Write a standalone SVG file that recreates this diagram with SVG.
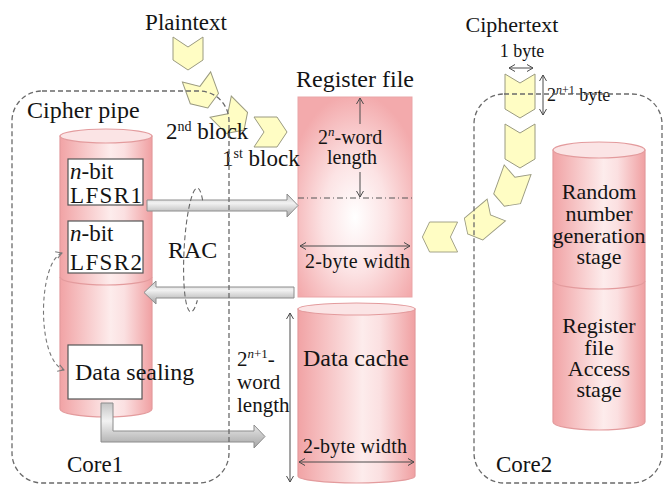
<svg xmlns="http://www.w3.org/2000/svg" width="664" height="487" viewBox="0 0 664 487">
<style>
text{font-family:'Liberation Serif','Times New Roman','DejaVu Serif',serif;fill:#141414}
.cyl{fill:url(#pinkH);stroke:#E39B9D;stroke-width:1.2}
.cap{fill:#FBE4E5;stroke:#E39B9D;stroke-width:1.2}
.div{fill:none;stroke:#E39B9D;stroke-width:1.2}
.box{fill:#fff;stroke:#555;stroke-width:1.2}
.chev{fill:#FFFDC4;stroke:#9a9a80;stroke-width:1}
.core{fill:none;stroke:#6a6a6a;stroke-width:1.3;stroke-dasharray:5 3}
.dim{fill:none;stroke:#4a4a4a;stroke-width:1;marker-start:url(#ah);marker-end:url(#ah)}
.one{fill:none;stroke:#4a4a4a;stroke-width:1;marker-end:url(#ah)}
.garrow{fill:url(#grayV);stroke:#8c8c8c;stroke-width:1}
</style>
<defs>
<linearGradient id="pinkH" x1="0" y1="0" x2="1" y2="0">
<stop offset="0" stop-color="#F1A3A5"/>
<stop offset="0.55" stop-color="#FDECEC"/>
<stop offset="0.7" stop-color="#FBE0E1"/>
<stop offset="1" stop-color="#F0A0A2"/>
</linearGradient>
<radialGradient id="pinkR" cx="0.5" cy="0.6" r="0.62">
<stop offset="0" stop-color="#FFFFFF"/>
<stop offset="0.45" stop-color="#FCE3E4"/>
<stop offset="1" stop-color="#F3AAAC"/>
</radialGradient>
<linearGradient id="grayV" x1="0" y1="0" x2="0" y2="1">
<stop offset="0" stop-color="#C4C4C4"/>
<stop offset="0.4" stop-color="#F2F2F2"/>
<stop offset="1" stop-color="#A4A4A4"/>
</linearGradient>
<marker id="ah" markerWidth="8" markerHeight="8" refX="6" refY="4" orient="auto-start-reverse" markerUnits="userSpaceOnUse">
<path d="M0,0.5 L6,4 L0,7.5" fill="none" stroke="#4a4a4a" stroke-width="1"/>
</marker>
<marker id="ahd" markerWidth="8" markerHeight="8" refX="6" refY="4" orient="auto-start-reverse" markerUnits="userSpaceOnUse">
<path d="M0,0.5 L6,4 L0,7.5" fill="none" stroke="#777" stroke-width="1"/>
</marker>
<path id="chP" d="M-15,-16 L0,-6 L15,-16 L15,7 L0,17 L-15,7 Z"/>
<path id="chC" d="M-15,-22 L0,-13 L15,-22 L15,13 L0,22 L-15,13 Z"/>
</defs>

<g id="cipher-pipe">
<path class="cyl" d="M60,136 L60,409 A46,8 0 0 0 152,409 L152,136 Z"/>
<ellipse class="cap" cx="106" cy="136" rx="46" ry="7"/>
<path class="div" d="M60,277 A46,8 0 0 0 152,277"/>
<text x="27" y="118" font-size="24">Cipher pipe</text>
</g>
<g id="lfsr1">
<rect class="box" x="68" y="159" width="75" height="46"/>
<text x="70" y="179" font-size="23"><tspan font-style="italic">n</tspan>-bit</text>
<text x="70" y="203" font-size="23" textLength="72">LFSR1</text>
</g>
<g id="lfsr2">
<rect class="box" x="68" y="221" width="75" height="52"/>
<text x="70" y="241" font-size="23"><tspan font-style="italic">n</tspan>-bit</text>
<text x="70" y="270" font-size="23" textLength="72">LFSR2</text>
</g>
<g id="data-sealing">
<rect class="box" x="68" y="345" width="74" height="54"/>
<text x="75" y="380" font-size="24">Data sealing</text>
</g>

<g id="register-file">
<text x="355" y="87" font-size="24" text-anchor="middle">Register file</text>
<rect x="298" y="97" width="114" height="200" fill="url(#pinkR)" stroke="#EAA5A7" stroke-width="1"/>
<line x1="298" y1="198" x2="412" y2="198" stroke="#555" stroke-width="1" stroke-dasharray="6 3 1 3"/>
<line class="one" x1="360" y1="124" x2="360" y2="98"/>
<line class="one" x1="360" y1="172" x2="360" y2="197"/>
<text x="318" y="144" font-size="20">2<tspan font-size="13" dy="-8" font-style="italic">n</tspan><tspan dy="8">-word</tspan></text>
<text x="352" y="164" font-size="20" text-anchor="middle">length</text>
<line class="dim" x1="300" y1="246" x2="410" y2="246"/>
<text x="305" y="268" font-size="20" textLength="105">2-byte width</text>
</g>

<g id="data-cache">
<path class="cyl" d="M298,309 L298,476 A58.5,7 0 0 0 415,476 L415,309 Z"/>
<ellipse class="cap" cx="356.5" cy="309" rx="58.5" ry="6"/>
<text x="356" y="366" font-size="24" text-anchor="middle">Data cache</text>
<text x="303" y="453" font-size="20" textLength="104">2-byte width</text>
<line class="dim" x1="299" y1="462" x2="414" y2="462"/>
<line class="dim" x1="290" y1="313" x2="290" y2="482"/>
<text x="237" y="366" font-size="21">2<tspan font-size="13" dy="-8"><tspan font-style="italic">n</tspan>+1</tspan><tspan dy="8">-</tspan></text>
<text x="237" y="389" font-size="21">word</text>
<text x="237" y="412" font-size="21">length</text>
</g>

<g id="core2-pipe">
<path class="cyl" d="M553,150 L553,422 A46,8 0 0 0 645,422 L645,150 Z"/>
<ellipse class="cap" cx="599" cy="150" rx="46" ry="8"/>
<path class="div" d="M553,281 A46,8 0 0 0 645,281"/>
<text font-size="22" text-anchor="middle"><tspan x="599" y="199">Random</tspan><tspan x="599" y="221">number</tspan><tspan x="599" y="243">generation</tspan><tspan x="599" y="264">stage</tspan></text>
<text font-size="22" text-anchor="middle"><tspan x="599" y="333">Register</tspan><tspan x="599" y="355">file</tspan><tspan x="599" y="376">Access</tspan><tspan x="599" y="397">stage</tspan></text>
</g>

<g id="connectors">
<path class="garrow" d="M147,200 L287,200 L287,194 L298,205.5 L287,217 L287,211 L147,211 Z"/>
<path class="garrow" d="M294,287 L156,287 L156,281 L144,292.5 L156,304 L156,298 L294,298 Z"/>
<path class="garrow" d="M101,403 L113,403 L113,431 L254,431 L254,425 L265,436.5 L254,448 L254,442 L101,442 Z"/>
<path d="M62,253 C38,262 36,360 64,370" fill="none" stroke="#777" stroke-width="1.1" stroke-dasharray="4 3" marker-start="url(#ahd)" marker-end="url(#ahd)"/>
<path d="M200,200 A10,62 0 1 0 200,300" fill="none" stroke="#666" stroke-width="1.1" stroke-dasharray="5 3" transform="rotate(3 194 250)"/>
</g>

<g id="rac-label">
<text x="168" y="258" font-size="24">RAC</text>
</g>

<g id="plaintext">
<text x="186" y="30" font-size="23" text-anchor="middle">Plaintext</text>
<use href="#chP" class="chev" transform="translate(188,53)"/>
<use href="#chP" class="chev" transform="translate(202,92) rotate(-20)"/>
<use href="#chP" class="chev" transform="translate(232,118) rotate(-45)"/>
<use href="#chP" class="chev" transform="translate(270,132) rotate(-90)"/>
<text x="166" y="139" font-size="23">2<tspan font-size="14" dy="-8">nd</tspan><tspan dy="8"> block</tspan></text>
<text x="222" y="166" font-size="23">1<tspan font-size="14" dy="-8">st</tspan><tspan dy="8"> block</tspan></text>
</g>

<g id="ciphertext">
<text x="512" y="32" font-size="22" text-anchor="middle">Ciphertext</text>
<text x="522" y="57" font-size="18" text-anchor="middle">1 byte</text>
<line class="dim" x1="509" y1="68" x2="533" y2="68"/>
<use href="#chC" class="chev" transform="translate(520,96)"/>
<use href="#chC" class="chev" transform="translate(520,146)"/>
<use href="#chC" class="chev" transform="translate(511,188) rotate(20) scale(0.95,0.88)"/>
<use href="#chC" class="chev" transform="translate(482,222) rotate(50) scale(0.95,0.85)"/>
<use href="#chC" class="chev" transform="translate(440,237) rotate(90) scale(1,0.8)"/>
<line class="dim" x1="543" y1="75" x2="543" y2="115"/>
<text x="547" y="101" font-size="18">2<tspan font-size="12" dy="-7"><tspan font-style="italic">n</tspan>+1</tspan><tspan dy="7"> byte</tspan></text>
</g>

<g id="core1">
<rect class="core" x="12" y="91" width="217" height="392" rx="30" ry="30"/>
<text x="67" y="472" font-size="23">Core1</text>
</g>
<g id="core2">
<rect class="core" x="474" y="94" width="188" height="389" rx="30" ry="30"/>
<text x="496" y="472" font-size="23">Core2</text>
</g>
</svg>
